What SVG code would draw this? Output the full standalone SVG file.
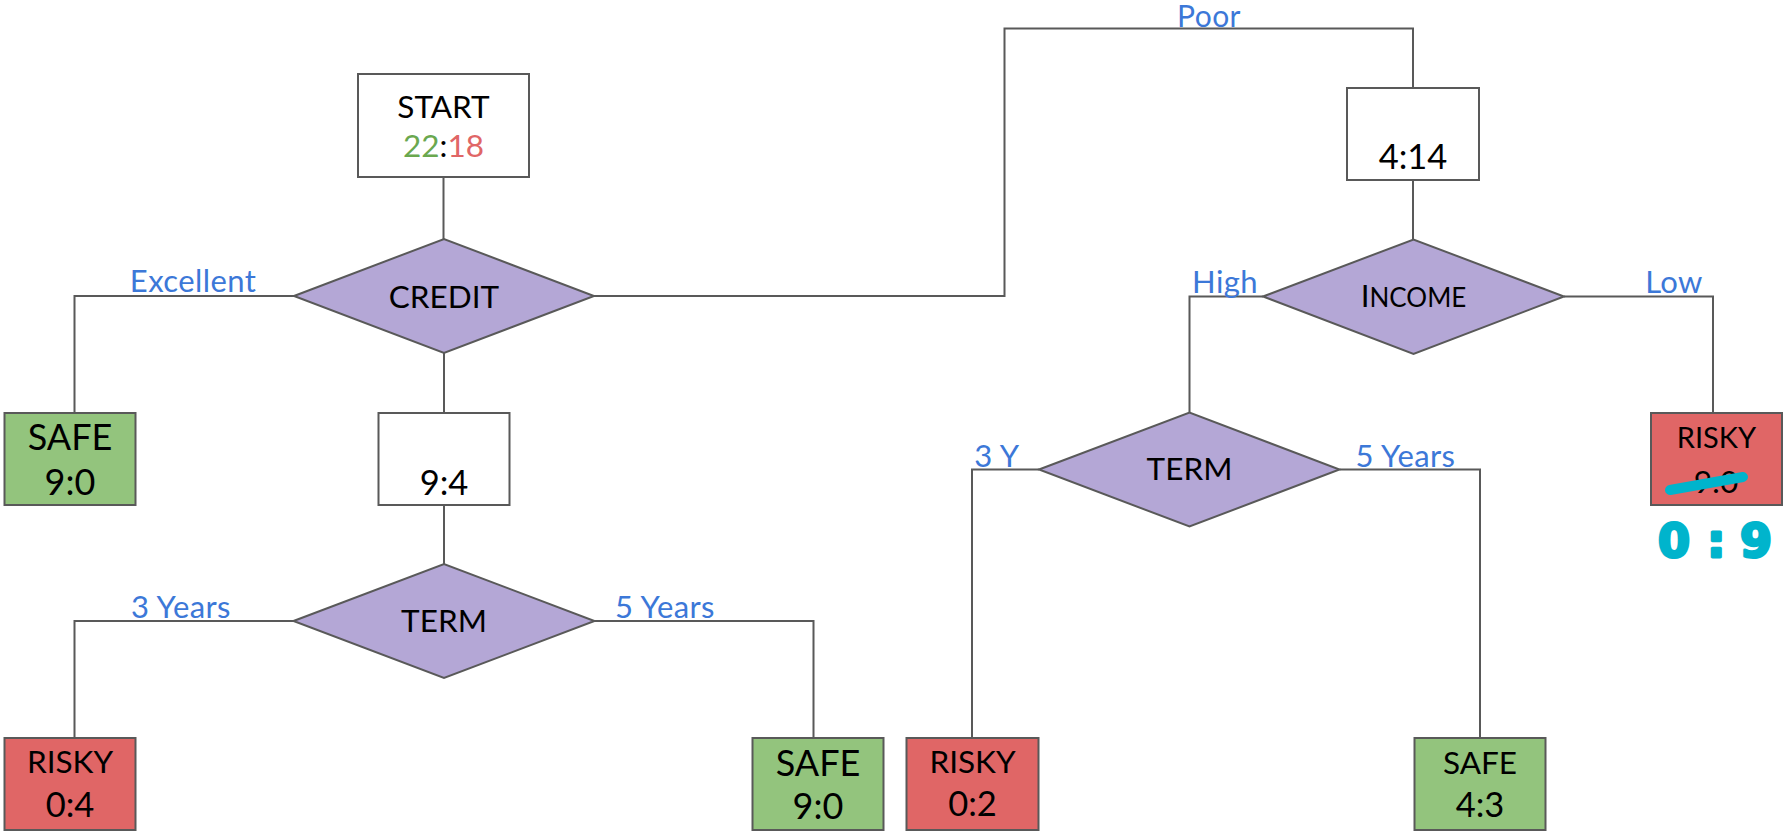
<svg xmlns="http://www.w3.org/2000/svg" width="1783" height="831" viewBox="0 0 1783 831">
  <style>
    .box { stroke: #595959; stroke-width: 2; }
    .plain { fill: #ffffff; }
    .safe { fill: #93c47d; }
    .risky { fill: #e06666; }
    .dec { fill: #b4a7d6; stroke: #595959; stroke-width: 2; stroke-linejoin: miter; }
    .wire { fill: none; stroke: #595959; stroke-width: 2; }
    text { font-family: Lato, "Liberation Sans", sans-serif; fill: #000; text-anchor: middle; }
    .t30 { font-size: 31.5px; }
    .t33 { font-size: 34.5px; }
    .big { font-size: 36px; }
    .lbl { font-size: 31px; letter-spacing: 0.4px; fill: #3c78d8; }
    .ink { fill: none; stroke: #00b4cc; stroke-width: 10; stroke-linecap: round; }
    .hand { font-family: "DejaVu Sans", sans-serif; font-size: 46px; font-weight: bold; fill: #00b4cc; stroke: #00b4cc; stroke-width: 3; stroke-linejoin: round; text-anchor: start; }
  </style>

  <!-- connectors -->
  <g id="connectors">
    <path class="wire" d="M443.5 177 V239"/>
    <path class="wire" d="M294 296 H74.5 V413"/>
    <path class="wire" d="M444 353 V413"/>
    <path class="wire" d="M444 505 V564"/>
    <path class="wire" d="M293.5 621 H74.5 V738"/>
    <path class="wire" d="M594.5 621 H813.5 V738"/>
    <path class="wire" d="M594 296 H1004.5 V28.5 H1413 V88"/>
    <path class="wire" d="M1413 180 V239.5"/>
    <path class="wire" d="M1263 296.5 H1189.5 V412.5"/>
    <path class="wire" d="M1564 296.5 H1713 V413"/>
    <path class="wire" d="M1039 469.5 H972 V738"/>
    <path class="wire" d="M1339.5 469.5 H1480 V738"/>
    <text class="lbl" x="193" y="292">Excellent</text>
    <text class="lbl" x="1209" y="26.5" style="font-size:30px">Poor</text>
    <text class="lbl" x="181" y="618">3 Years</text>
    <text class="lbl" x="665" y="618">5 Years</text>
    <text class="lbl" x="1225" y="293">High</text>
    <text class="lbl" x="1674" y="293">Low</text>
    <text class="lbl" x="997" y="467">3 Y</text>
    <text class="lbl" x="1405.5" y="467">5 Years</text>
  </g>

  <!-- root -->
  <g id="start">
    <rect class="box plain" x="358" y="74" width="171" height="103"/>
    <text class="t30" x="443.5" y="118">START</text>
    <text class="t30" x="443.5" y="157"><tspan fill="#6aa84f">22</tspan>:<tspan fill="#e06666">18</tspan></text>
  </g>

  <g id="credit">
    <polygon class="dec" points="294,296 444,239 594,296 444,353"/>
    <text class="t30" x="444" y="308">CREDIT</text>
  </g>

  <g id="safe-excellent">
    <rect class="box safe" x="4.5" y="413" width="131" height="92"/>
    <text class="big" x="70" y="450">SAFE</text>
    <text class="big" x="70" y="494.5">9:0</text>
  </g>

  <g id="count-fair">
    <rect class="box plain" x="378.5" y="413" width="131" height="92"/>
    <text class="t33" x="444" y="495">9:4</text>
  </g>

  <g id="term-left">
    <polygon class="dec" points="293.5,621 444,564 594.5,621 444,678"/>
    <text class="t30" x="444" y="632">TERM</text>
  </g>

  <g id="risky-3y">
    <rect class="box risky" x="4.5" y="738" width="131" height="92"/>
    <text class="t30" x="70" y="773">RISKY</text>
    <text class="t33" x="70" y="817">0:4</text>
  </g>

  <g id="safe-5y">
    <rect class="box safe" x="752.5" y="738" width="131" height="92"/>
    <text class="big" x="818" y="776">SAFE</text>
    <text class="big" x="818" y="819">9:0</text>
  </g>

  <g id="count-poor">
    <rect class="box plain" x="1347" y="88" width="132" height="92"/>
    <text class="t33" x="1413" y="169">4:14</text>
  </g>

  <g id="income">
    <polygon class="dec" points="1263,296.5 1413.5,239.5 1564,296.5 1413.5,354"/>
    <text class="t30" x="1413.5" y="307">I<tspan style="font-size:26px">NCOME</tspan></text>
  </g>

  <g id="term-right">
    <polygon class="dec" points="1039,469.5 1189.5,412.5 1339.5,469.5 1189.5,526.5"/>
    <text class="t30" x="1189.5" y="480">TERM</text>
  </g>

  <g id="risky-low">
    <rect class="box risky" x="1651" y="413" width="131" height="92"/>
    <text class="t30" x="1716.5" y="448" style="font-size:29px">RISKY</text>
    <text class="t30" x="1716" y="493">9:0</text>
    <!-- hand-drawn correction: strike-out and new count -->
    <path class="ink" d="M1670 490 L1743 477"/>
    <text class="hand" x="1658 1707 1740" y="557">0:9</text>
  </g>

  <g id="risky-high-3y">
    <rect class="box risky" x="906.5" y="738" width="132" height="92"/>
    <text class="t30" x="972.5" y="773">RISKY</text>
    <text class="t33" x="972.5" y="816">0:2</text>
  </g>

  <g id="safe-high-5y">
    <rect class="box safe" x="1414.5" y="738" width="131" height="92"/>
    <text class="t30" x="1480" y="774">SAFE</text>
    <text class="t33" x="1480" y="817">4:3</text>
  </g>
</svg>
